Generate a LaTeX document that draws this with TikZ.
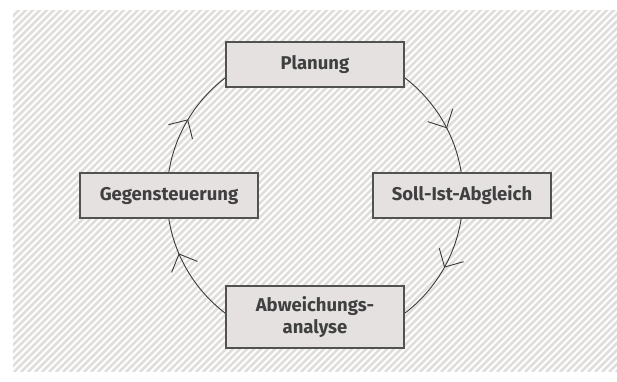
\documentclass[tikz,border=0pt]{standalone}
\usepackage{fontspec}
\setmainfont{Fira Sans}
\usetikzlibrary{arrows.meta,decorations.markings}
\definecolor{boxfill}{HTML}{E4E1E0}
\definecolor{boxline}{HTML}{525252}
\definecolor{stripe}{HTML}{E0DEDC}
\definecolor{txtgray}{HTML}{404040}
\definecolor{ringgray}{HTML}{3A3A3A}
\tikzset{
  box/.style={draw=boxline, line width=1.4pt, fill=boxfill, minimum width=178pt,
    minimum height=45pt, inner sep=0pt, align=center, text=txtgray,
    font=\fontsize{18.5}{21.5}\selectfont\bfseries},
  barb/.tip={Straight Barb[length=14pt,width=28pt]},
}
\begin{document}
\begin{tikzpicture}[x=1pt,y=-1pt]
    \useasboundingbox (0,0) rectangle (617,381);
    % hatched ground
    \begin{scope}
      \clip (13,10) rectangle (617,371);
      \foreach \i in {-364,-357,...,624} \draw[stripe, line width=2.6pt] (\i,372) -- ++(366,-366);
    \end{scope}
    \coordinate (c) at (315,195.5);
    % control loop, clockwise
    \draw[ringgray, line width=0.9pt, postaction={decorate},
      decoration={markings,
        mark=at position 0.175 with {\arrow{barb}},
        mark=at position 0.331 with {\arrow{barb}},
        mark=at position 0.686 with {\arrow{barb}},
        mark=at position 0.836 with {\arrow{barb}}}]
      (c) ++(0,-148) arc[start angle=-90, delta angle=360, radius=148];
    \node[box] (plan)  at (315,64.5)  {Planung};
    \node[box] (soll)  at (462,195.5) {Soll-Ist-Abgleich};
    \node[box, minimum height=62pt] (abw) at (315,317) {Abweichungs-\\analyse};
    \node[box] (gegen) at (169,195.5) {Gegensteuerung};
\end{tikzpicture}
\end{document}
